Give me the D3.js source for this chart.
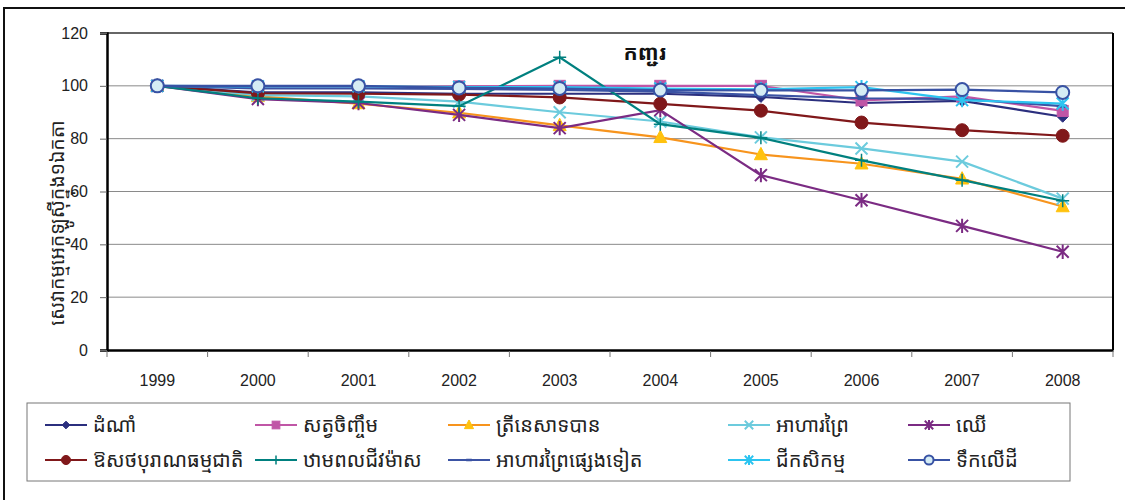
<!DOCTYPE html>
<html><head><meta charset="utf-8">
<script src="https://cdn.jsdelivr.net/npm/d3@7/dist/d3.min.js"></script>
<style>
html,body{margin:0;padding:0;background:#fff;}
svg{display:block;}
.kh{font-family:"Khmer OS","Khmer OS System","Noto Sans Khmer","Noto Serif Khmer","Khmer UI","Hanuman","Battambang",sans-serif;}
.num{font-family:"Liberation Sans",Arial,sans-serif;}
</style></head>
<body>
<svg id="c" width="1125" height="500"></svg>
<script>
const years = ["1999","2000","2001","2002","2003","2004","2005","2006","2007","2008"];
const yTicks = [0,20,40,60,80,100,120];
const seriesNames = ["ដំណាំ","សត្វចិញ្ចឹម","ត្រីនេសាទបាន","អាហារព្រៃ","ឈើ","ឱសថបុរាណធម្មជាតិ","ឋាមពលជីវម៉ាស","អាហារព្រៃផ្សេងទៀត","ជីកសិកម្ម","ទឹកលើដី"];
const crops      = [100, 97.5, 97.5, 97.0, 97.0, 97.0, 95.8, 93.5, 94.3, 88.3];
const livestock  = [100, 99.5, 99.5, 99.8, 100, 100, 100, 94.5, 96.0, 90.5];
const fish       = [100, 96.0, 93.3, 89.8, 85.0, 80.5, 74.0, 70.5, 64.8, 54.3];
const wildFood   = [100, 96.5, 96.0, 94.0, 90.0, 86.5, 80.5, 76.3, 71.3, 57.3];
const timber     = [100, 95.0, 93.5, 89.0, 84.0, 90.8, 66.2, 56.7, 47.0, 37.2];
const medicine   = [100, 97.2, 97.0, 96.7, 95.6, 93.2, 90.6, 86.1, 83.2, 81.1];
const biomass    = [100, 95.3, 94.0, 92.3, 110.8, 85.5, 80.3, 71.8, 64.3, 56.5];
const otherWild  = [100, 99.0, 99.0, 98.8, 98.5, 97.8, 96.5, 95.3, 95.0, 92.3];
const fertility  = [100, 99.8, 99.8, 99.5, 99.5, 99.0, 98.7, 99.5, 94.6, 93.3];
const water      = [100, 100, 100, 99.2, 99.0, 98.4, 98.3, 98.3, 98.6, 97.5];
const chartTitle = "កញ្ជរ";
const yTitle = "សេវាកម្មអេកូឡូស៊ីក្នុង១ឯកតា";

const seriesValues = [crops, livestock, fish, wildFood, timber, medicine, biomass, otherWild, fertility, water];
const styles = [
  {line:"#2B2F7E", marker:"diamond", fill:"#2B2F7E", stroke:"#2B2F7E"},
  {line:"#C056A6", marker:"square", fill:"#C056A6", stroke:"#C056A6"},
  {line:"#F7941D", marker:"triangle", fill:"#FFC20E", stroke:"#FFC20E"},
  {line:"#6CCBDD", marker:"x", fill:"none", stroke:"#6CCBDD"},
  {line:"#7B2B83", marker:"asterisk", fill:"none", stroke:"#7B2B83"},
  {line:"#80181A", marker:"circle", fill:"#80181A", stroke:"#80181A"},
  {line:"#00807F", marker:"plus", fill:"none", stroke:"#00807F"},
  {line:"#3B53A4", marker:"dash", fill:"#3B53A4", stroke:"#3B53A4"},
  {line:"#2CC4F0", marker:"asterisk", fill:"none", stroke:"#2CC4F0"},
  {line:"#3852A4", marker:"ocircle", fill:"#D5ECF4", stroke:"#3852A4"}
];

const svg = d3.select("#c");
const L = 107, R = 1113, T = 33, B = 350;
const x = d3.scaleBand().domain(years).range([L, R]);
const y = d3.scaleLinear().domain([0, 120]).range([B, T]);
const cx = d => x(d) + x.bandwidth()/2;

// outer frame
svg.append("rect").attr("x",4).attr("y",8).attr("width",1300).attr("height",700)
  .attr("fill","none").attr("stroke","#111").attr("stroke-width",2);

// gridlines
svg.append("g").selectAll("line").data(yTicks.filter(t=>t>0 && t<120)).join("line")
  .attr("x1",L).attr("x2",R).attr("y1",d=>y(d)).attr("y2",d=>y(d))
  .attr("stroke","#8a8a8a").attr("stroke-width",1);
// top border
svg.append("line").attr("x1",L).attr("x2",R).attr("y1",T).attr("y2",T).attr("stroke","#333").attr("stroke-width",1.5);
// right border
svg.append("line").attr("x1",R).attr("x2",R).attr("y1",T).attr("y2",B).attr("stroke","#000").attr("stroke-width",2);

// y axis
const yAxis = svg.append("g").attr("transform",`translate(${L},0)`)
  .call(d3.axisLeft(y).tickValues(yTicks).tickSize(7).tickPadding(12));
yAxis.select(".domain").attr("stroke","#000").attr("stroke-width",2.5);
yAxis.selectAll(".tick line").attr("stroke","#666");
yAxis.selectAll("text").attr("class","num").attr("font-size",16).attr("fill","#222");

// x axis
const xAxis = svg.append("g").attr("transform",`translate(0,${B})`)
  .call(d3.axisBottom(x).tickSize(0).tickPadding(25));
xAxis.select(".domain").attr("stroke","#000").attr("stroke-width",2.5);
xAxis.selectAll("text").attr("class","num").attr("font-size",16).attr("fill","#222");
// category boundary ticks
svg.append("g").selectAll("line").data(years.concat(["end"])).join("line")
  .attr("x1",(d,i)=> i<years.length ? x(d) : R).attr("x2",(d,i)=> i<years.length ? x(d) : R)
  .attr("y1",B+1).attr("y2",B+7).attr("stroke","#777").attr("stroke-width",1);

// marker drawer
function drawMarker(g, type, st, s) {
  const sw = 2;
  if (type === "diamond") {
    g.append("path").attr("d",`M0,${-s}L${s},0L0,${s}L${-s},0Z`).attr("fill",st.fill).attr("stroke",st.stroke);
  } else if (type === "square") {
    g.append("rect").attr("x",-s).attr("y",-s).attr("width",2*s).attr("height",2*s).attr("fill",st.fill).attr("stroke",st.stroke);
  } else if (type === "triangle") {
    g.append("path").attr("d",`M0,${-s*1.1}L${s},${s*0.8}L${-s},${s*0.8}Z`).attr("fill",st.fill).attr("stroke",st.stroke);
  } else if (type === "x") {
    g.append("path").attr("d",`M${-s},${-s}L${s},${s}M${-s},${s}L${s},${-s}`).attr("stroke",st.stroke).attr("stroke-width",sw).attr("fill","none");
  } else if (type === "asterisk") {
    g.append("path").attr("d",`M${-s},${-s}L${s},${s}M${-s},${s}L${s},${-s}M0,${-s*1.2}L0,${s*1.2}`).attr("stroke",st.stroke).attr("stroke-width",sw).attr("fill","none");
  } else if (type === "circle") {
    g.append("circle").attr("r",s).attr("fill",st.fill).attr("stroke",st.stroke);
  } else if (type === "plus") {
    g.append("path").attr("d",`M${-s},0L${s},0M0,${-s}L0,${s}`).attr("stroke",st.stroke).attr("stroke-width",1.5).attr("fill","none");
  } else if (type === "dash") {
    g.append("rect").attr("x",-s).attr("y",-s*0.45).attr("width",2*s).attr("height",s*0.9).attr("fill",st.fill);
  } else if (type === "ocircle") {
    g.append("circle").attr("r",s).attr("fill",st.fill).attr("stroke",st.stroke).attr("stroke-width",2);
  }
}
const markerSize = {diamond:5.5, square:5.5, triangle:6.5, x:6, asterisk:6, circle:6.5, plus:6.5, dash:4, ocircle:6.5};

const line = d3.line().x(d=>cx(d.year)).y(d=>y(d.v));
seriesValues.forEach((vals, i) => {
  const st = styles[i];
  const pts = years.map((yr,j)=>({year:yr, v:vals[j]}));
  const g = svg.append("g");
  g.append("path").datum(pts).attr("d",line).attr("fill","none").attr("stroke",st.line).attr("stroke-width",2.2);
  pts.forEach(p => {
    const m = g.append("g").attr("transform",`translate(${cx(p.year)},${y(p.v)})`);
    drawMarker(m, st.marker, st, markerSize[st.marker]);
  });
});

// title
svg.append("text").attr("class","kh").attr("x",645).attr("y",60).attr("text-anchor","middle")
  .attr("font-size",21).attr("font-weight","bold").attr("fill","#111").text(chartTitle);

// y title
svg.append("text").attr("class","kh").attr("transform","translate(64,223) rotate(-90)")
  .attr("text-anchor","middle").attr("font-size",19.5).attr("fill","#222").text(yTitle);

// legend
svg.append("rect").attr("x",27).attr("y",403).attr("width",1043).attr("height",78)
  .attr("fill","#fff").attr("stroke","#777").attr("stroke-width",1);
const legCols = [45, 255, 448, 728, 908];
const legRows = [425, 460];
seriesNames.forEach((name, i) => {
  const col = i % 5, row = Math.floor(i / 5);
  const lx = legCols[col], ly = legRows[row];
  const st = styles[i];
  const g = svg.append("g");
  g.append("line").attr("x1",lx).attr("x2",lx+42).attr("y1",ly).attr("y2",ly).attr("stroke",st.line).attr("stroke-width",2.2);
  const m = g.append("g").attr("transform",`translate(${lx+21},${ly})`);
  drawMarker(m, st.marker, st, markerSize[st.marker]*0.7);
  g.append("text").attr("class","kh").attr("x",lx+48).attr("y",ly+7).attr("font-size",20).attr("fill","#222").text(name);
});
</script>
</body></html>
